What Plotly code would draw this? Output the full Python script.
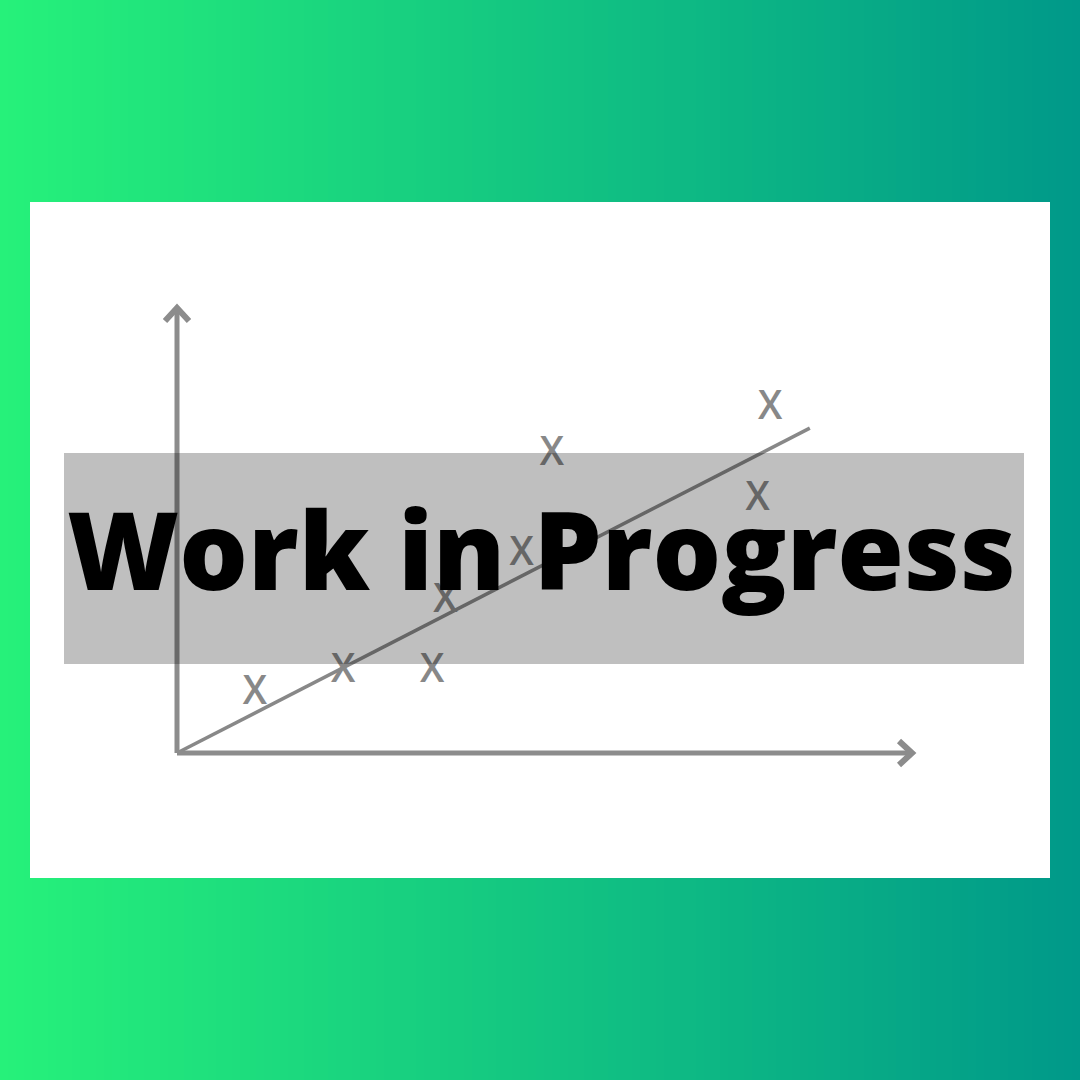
import plotly.graph_objects as go

# ---- data (axis units 0..10) ----
point_x = [1.06, 2.26, 3.47, 3.65, 4.69, 5.10, 7.90, 8.07]
point_y = [1.44, 1.93, 1.93, 3.51, 4.56, 6.81, 5.80, 7.84]
point_label = ["X"] * len(point_x)
trend_x = [0.0, 8.61]
trend_y = [0.0, 7.30]
title_text = "Work in Progress"

W = H = 1080
# pixel positions of axis origin and arrow tips
X0, X1 = 177, 912
Y0, Y1 = 753, 308
AX_END = 10
PAD = 1.0
ppx = (X1 - X0) / AX_END
ppy = (Y0 - Y1) / AX_END
XR = [-PAD, AX_END + PAD]
YR = [-PAD, AX_END + PAD]
xdom = [(X0 - PAD * ppx) / W, (X1 + PAD * ppx) / W]
ydom = [1 - (Y0 + PAD * ppy) / H, 1 - (Y1 - PAD * ppy) / H]
# text glyphs sit slightly high when centred; a twin y axis corrects the baseline
TXT_SHIFT = 5 / H
ydom_txt = [ydom[0] - TXT_SHIFT, ydom[1] - TXT_SHIFT]

fig = go.Figure()

fig.add_trace(go.Scatter(
    x=trend_x, y=trend_y, mode="lines",
    line=dict(color="rgb(136,136,136)", width=3.5),
    hoverinfo="skip", showlegend=False))

fig.add_trace(go.Scatter(
    x=point_x, y=point_y, mode="text", text=point_label, yaxis="y2",
    textposition="middle center",
    textfont=dict(family="Open Sans", size=39, color="rgb(136,136,136)", weight=600),
    hoverinfo="skip", showlegend=False))

shapes = []
# gradient background
c0 = (38, 241, 122)
c1 = (0, 153, 137)
n = 135
for i in range(n):
    t = i / (n - 1)
    col = tuple(round(c0[k] + (c1[k] - c0[k]) * t) for k in range(3))
    shapes.append(dict(type="rect", xref="paper", yref="paper",
                       x0=i / n, x1=(i + 1.5) / n, y0=0, y1=1,
                       fillcolor="rgb(%d,%d,%d)" % col, line=dict(width=0),
                       layer="below"))
# white panel
shapes.append(dict(type="rect", xref="paper", yref="paper",
                   x0=30 / W, x1=1050 / W, y0=1 - 878 / H, y1=1 - 202 / H,
                   fillcolor="white", line=dict(width=0), layer="below"))

axis_col = "rgb(140,140,140)"
ux = 1 / ppx
uy = 1 / ppy
shapes.append(dict(type="line", xref="x", yref="y", x0=0, y0=0, x1=AX_END, y1=0,
                   line=dict(color=axis_col, width=5), layer="above"))
shapes.append(dict(type="line", xref="x", yref="y", x0=0, y0=0, x1=0, y1=AX_END,
                   line=dict(color=axis_col, width=5), layer="above"))
a, b = 13, 12
shapes.append(dict(type="path", xref="x", yref="y",
                   path="M %f,%f L %f,%f L %f,%f" % (AX_END - a * ux, b * uy, AX_END, 0, AX_END - a * ux, -b * uy),
                   line=dict(color=axis_col, width=6), layer="above"))
shapes.append(dict(type="path", xref="x", yref="y",
                   path="M %f,%f L %f,%f L %f,%f" % (-b * ux, AX_END - a * uy, 0, AX_END, b * ux, AX_END - a * uy),
                   line=dict(color=axis_col, width=6), layer="above"))
# grey translucent band
shapes.append(dict(type="rect", xref="paper", yref="paper",
                   x0=64 / W, x1=1024 / W, y0=1 - 664 / H, y1=1 - 453 / H,
                   fillcolor="rgba(0,0,0,0.25)", line=dict(width=0), layer="above"))

fig.update_layout(
    width=W, height=H, margin=dict(l=0, r=0, t=0, b=0),
    paper_bgcolor="white", plot_bgcolor="rgba(0,0,0,0)",
    xaxis=dict(domain=xdom, range=XR, visible=False, fixedrange=True),
    yaxis=dict(domain=ydom, range=YR, visible=False, fixedrange=True),
    yaxis2=dict(domain=ydom_txt, range=YR, visible=False, fixedrange=True, anchor="x"),
    shapes=shapes,
    annotations=[dict(text=title_text, xref="paper", yref="paper",
                      x=541 / W, y=1 - 548 / H, xanchor="center", yanchor="middle",
                      showarrow=False,
                      font=dict(family="Open Sans", size=108, color="black", weight=800))],
)

fig.write_html("out.html", post_script="document.body.style.margin='0';",
               config={"displayModeBar": False})
